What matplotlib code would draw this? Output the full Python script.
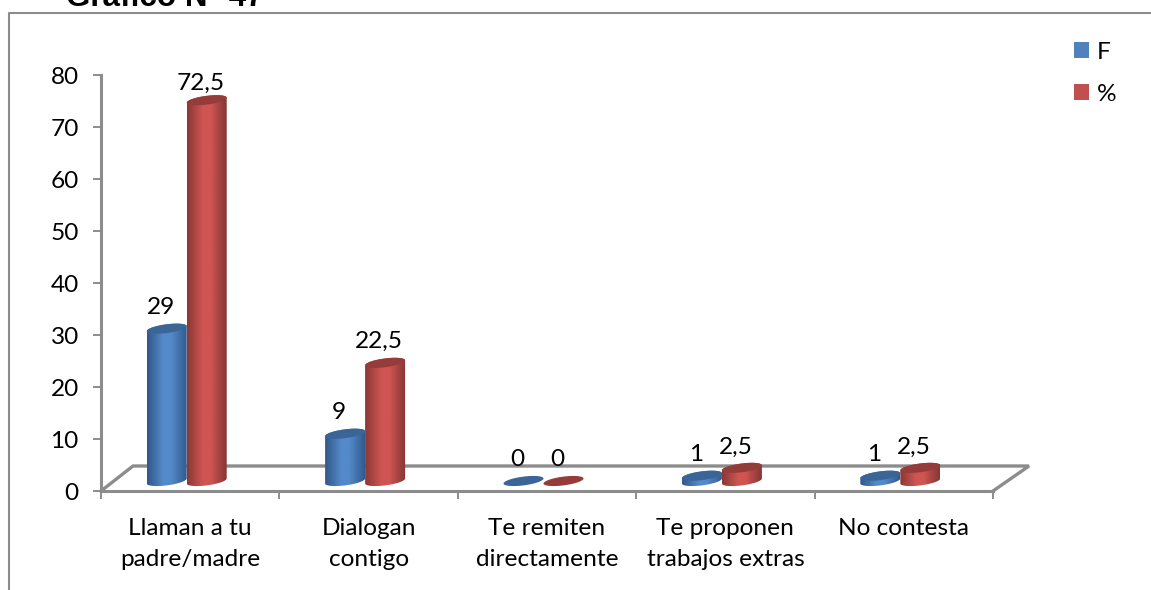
import numpy as np
import matplotlib
matplotlib.use("Agg")
import matplotlib.pyplot as plt
from matplotlib.colors import LinearSegmentedColormap
from matplotlib.lines import Line2D
from matplotlib.patches import Patch, Polygon

categories = ["Llaman a tu\npadre/madre", "Dialogan\ncontigo", "Te remiten\ndirectamente",
              "Te proponen\ntrabajos extras", "No contesta"]
series_f = [29, 9, 0, 1, 1]
series_pct = [72.5, 22.5, 0, 2.5, 2.5]
f_labels = ["29", "9", "0", "1", "1"]
pct_labels = ["72,5", "22,5", "0", "2,5", "2,5"]
series_names = ["F", "%"]
yticks = [0, 10, 20, 30, 40, 50, 60, 70, 80]

W, H = 1151, 590
FONT = "Lato"
FS = 17.6
GRAY = "#8c8c8c"
BLUE = "#4f81bd"
RED = "#c0504d"
SIDE_B = ["#33588a", "#4170a8", "#548ac9", "#548ac9", "#4373ad", "#335a8c"]
SIDE_R = ["#8a3836", "#ad4744", "#cf5552", "#cf5552", "#a84543", "#873735"]
TOP_B = "#3b6596"
TOP_R = "#953c3a"

fig = plt.figure(figsize=(W / 100, H / 100), dpi=100, facecolor="white")
ax = fig.add_axes([101 / W, (H - 491) / H, (993 - 101) / W, (491 - 75) / H])
ax.set_xlim(0, 5)
ax.set_ylim(0, 80)
ax.patch.set_alpha(0)
for s in ("top", "right"):
    ax.spines[s].set_visible(False)
for s in ("left", "bottom"):
    ax.spines[s].set_color(GRAY)
    ax.spines[s].set_linewidth(2.2)

px = 5 / (993 - 101)     # data x per pixel
py = 80 / (491 - 75)     # data y per pixel

# frame around the chart (figure pixel coordinates)
fig.add_artist(Line2D([8.5 / W, 8.5 / W, 1], [0, (H - 13) / H, (H - 13) / H],
                      color=GRAY, lw=1.5))

# floor of the 3D box
ax.plot([0, 32 * px, 5 + 36 * px, 5], [0, 25 * py, 25 * py, 0], color=GRAY, lw=2.4,
        clip_on=False, zorder=1, solid_joinstyle="miter")

ax.set_xticks(range(6))
ax.set_xticklabels([])
ax.set_xticks(np.arange(5) + 0.5, categories, minor=True)
ax.tick_params(axis="x", which="major", length=6, width=1.4, color=GRAY)
ax.tick_params(axis="x", which="minor", length=0, pad=19.5)
ax.set_yticks(yticks)
ax.tick_params(axis="y", length=6, width=1.4, color=GRAY, pad=10, labelsize=FS)
for t in ax.get_xticklabels(minor=True) + ax.get_yticklabels():
    t.set_fontfamily(FONT)
    t.set_color("black")
for t in ax.get_xticklabels(minor=True):
    t.set_fontsize(FS)
    t.set_linespacing(1.6)
    t.set_va("top")

BASE = 10 * py          # vertical centre of the bar foot above the floor front
SCALE = 1.01
BW = 40 * px
RY = 4.4 * py
TILT = 2.5 * py
T = np.linspace(0, 2 * np.pi, 80)


def ellipse(cx, cy):
    return np.column_stack([cx + BW / 2 * np.cos(T),
                            cy + RY * np.sin(T) + TILT * np.cos(T)])


def cylinder(cx, value, side, top):
    y0 = BASE
    y1 = BASE + value * SCALE
    if value > 0:
        cmap = LinearSegmentedColormap.from_list("c", side)
        im = ax.imshow(np.linspace(0, 1, 64)[None, :], cmap=cmap, aspect="auto",
                       extent=[cx - BW / 2, cx + BW / 2, y0 - 8 * py, y1 + 5 * py],
                       zorder=3, clip_on=True)
        low = T[(T >= np.pi)]
        high = T[(T <= np.pi)]
        outline = np.vstack([
            np.column_stack([cx + BW / 2 * np.cos(low), y0 + RY * np.sin(low) + TILT * np.cos(low)]),
            np.column_stack([cx + BW / 2 * np.cos(high), y1 + RY * np.sin(high) + TILT * np.cos(high)]),
        ])
        clip = Polygon(outline, closed=True, transform=ax.transData)
        im.set_clip_path(clip)
    ax.add_patch(Polygon(ellipse(cx, y1), closed=True, facecolor=top, edgecolor="none",
                         zorder=4, clip_on=False))


for i in range(len(categories)):
    c = i + 0.5 - 3.5 * px
    xf, xp = c - BW / 2, c + BW / 2
    cylinder(xf, series_f[i], SIDE_B, TOP_B)
    cylinder(xp, series_pct[i], SIDE_R, TOP_R)
    for x, v, lab in ((xf, series_f[i], f_labels[i]), (xp, series_pct[i], pct_labels[i])):
        gap = 17 if v > 50 else 21
        ax.text(x - 6 * px, BASE + v * SCALE + gap * py, lab, ha="center", va="center",
                family=FONT, fontsize=FS, color="black", zorder=5, clip_on=False)
ax.set_xlim(0, 5)
ax.set_ylim(0, 80)

fig.legend(handles=[Patch(facecolor=BLUE, label=series_names[0]),
                    Patch(facecolor=RED, label=series_names[1])],
           loc="upper left", bbox_to_anchor=(1074 / W, (H - 42) / H), frameon=False,
           borderaxespad=0, borderpad=0, handlelength=0.62, handleheight=0.62,
           handletextpad=0.3, labelspacing=0.85,
           prop={"family": FONT, "size": FS})

fig.text(66 / W, (H - 6) / H, "Gráfico N° 47", family="Liberation Sans", weight="bold",
         fontsize=22.6, ha="left", va="baseline", color="black")

fig.savefig("out.png", dpi=100)
